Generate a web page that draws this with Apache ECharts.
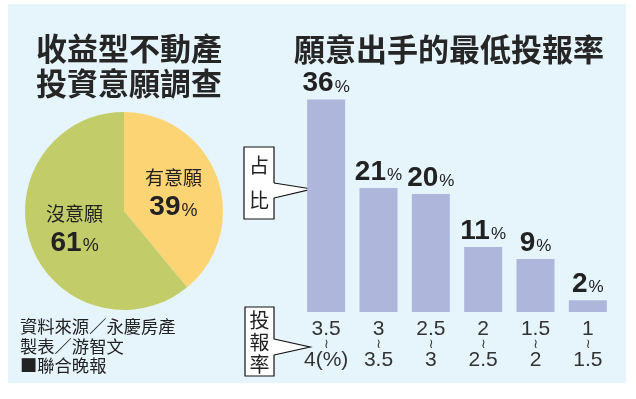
<!DOCTYPE html>
<html>
<head>
<meta charset="utf-8">
<script src="https://cdn.jsdelivr.net/npm/echarts@6/dist/echarts.min.js"></script>
<style>
  html, body { margin: 0; padding: 0; background: #fff; }
  #main { width: 636px; height: 399px; }
</style>
</head>
<body>
<div id="main"></div>
<script>
// 圓餅圖：收益型不動產投資意願
var pieNames = ['有意願', '沒意願'];
var pieValues = [39, 61];
var pieColors = ['#FDD473', '#C2CD6A'];

// 長條圖：願意出手的最低投報率
var rateLow = ['3.5', '3', '2.5', '2', '1.5', '1'];
var rateHigh = ['4(%)', '3.5', '3', '2.5', '2', '1.5'];
var shareValues = [36, 21, 20, 11, 9, 2];

var sourceLines = ['資料來源／永慶房產', '製表／游智文', '■聯合晚報'];

var FONT = '"Noto Sans CJK TC", "Noto Sans", sans-serif';
var NUMFONT = 'Arial, "Liberation Sans", sans-serif';

var myChart = echarts.init(document.getElementById('main'));

var categories = rateLow.map(function (v, i) { return v + '|' + rateHigh[i]; });

var pieData = pieNames.map(function (n, i) {
    return { name: n, value: pieValues[i], itemStyle: { color: pieColors[i] } };
});

// 說明框（占比、投報率）
function callout(x, y, w, h, chars, arrow) {
    var kids = [];
    kids.push({
        type: 'rect', shape: { x: x, y: y, width: w, height: h },
        style: { fill: '#fff', stroke: '#111', lineWidth: 1.2 }
    });
    kids.push({
        type: 'polygon', shape: { points: [[x + w - 1, arrow[0]], [arrow[2], arrow[3]], [x + w - 1, arrow[1]]] },
        style: { fill: '#fff', stroke: null }
    });
    kids.push({
        type: 'polyline', shape: { points: [[x + w, arrow[0]], [arrow[2], arrow[3]], [x + w, arrow[1]]] },
        style: { fill: null, stroke: '#111', lineWidth: 1.2 }
    });
    chars.forEach(function (c) {
        kids.push({
            type: 'text', x: x + w / 2, y: c[1],
            style: { text: c[0], font: '20px ' + FONT, fill: '#222', align: 'center', verticalAlign: 'middle' }
        });
    });
    return { type: 'group', children: kids };
}

var graphics = [
    { type: 'rect', z: -10, shape: { x: 8, y: 4, width: 618, height: 379 }, style: { fill: '#E6F4FB' } },
    callout(244, 147, 30, 72, [['占', 165], ['比', 200]], [183, 198, 312, 189]),
    callout(245, 307, 29, 69, [['投', 320], ['報', 342], ['率', 364]], [339, 355, 310, 347])
];
sourceLines.forEach(function (t, i) {
    graphics.push({
        type: 'text', left: 20, top: 318 + i * 19.5,
        style: { text: t, font: '17.3px ' + FONT, fill: '#222' }
    });
});

option = {
    backgroundColor: '#fff',
    animation: false,
    title: [
        {
            text: '收益型不動產\n投資意願調查',
            left: 31, top: 26,
            textStyle: { fontFamily: FONT, fontSize: 31, fontWeight: 'bold', color: '#262626', lineHeight: 35 }
        },
        {
            text: '願意出手的最低投報率',
            left: 289, top: 29,
            textStyle: { fontFamily: FONT, fontSize: 31, fontWeight: 'bold', color: '#262626' }
        }
    ],
    graphic: graphics,
    grid: { left: 300, top: 76, width: 314, height: 236 },
    xAxis: {
        type: 'category',
        data: categories,
        axisLine: { show: false },
        axisTick: { show: false },
        axisLabel: {
            margin: 9,
            interval: 0,
            formatter: function (v) {
                var p = v.split('|');
                return '{a|' + p[0] + '}\n{t|≀}\n{a|' + p[1] + '}';
            },
            rich: {
                a: { fontFamily: NUMFONT, fontSize: 21, color: '#333', lineHeight: 16 },
                t: { fontFamily: 'DejaVu Sans', fontSize: 13, color: '#333', lineHeight: 15 }
            }
        }
    },
    yAxis: { type: 'value', min: 0, max: 40, show: false },
    series: [
        {
            name: '占比',
            type: 'bar',
            data: shareValues,
            barWidth: 38,
            itemStyle: { color: '#AEB6DC' },
            label: {
                show: true,
                position: 'top',
                distance: 2,
                formatter: '{n|{c}}{p|%}',
                rich: {
                    n: { fontFamily: NUMFONT, fontSize: 28, fontWeight: 'bold', color: '#222' },
                    p: { fontFamily: NUMFONT, fontSize: 17, color: '#222', padding: [7, 0, 0, 1] }
                }
            }
        },
        {
            name: '投資意願',
            type: 'pie',
            center: [124, 211],
            radius: 99,
            startAngle: 90,
            clockwise: true,
            data: pieData,
            labelLine: { show: false },
            label: {
                show: true,
                position: 'inner',
                formatter: '{t|{b}}\n{n|{c}}{p|%}',
                rich: {
                    t: { fontFamily: FONT, fontSize: 19, color: '#222', lineHeight: 28, align: 'center' },
                    n: { fontFamily: NUMFONT, fontSize: 28, fontWeight: 'bold', color: '#222', lineHeight: 30 },
                    p: { fontFamily: NUMFONT, fontSize: 18, color: '#222', padding: [7, 0, 0, 1] }
                }
            }
        }
    ]
};

// 使用刚指定的配置项和数据显示图表。
myChart.setOption(option);
</script>
</body>
</html>
